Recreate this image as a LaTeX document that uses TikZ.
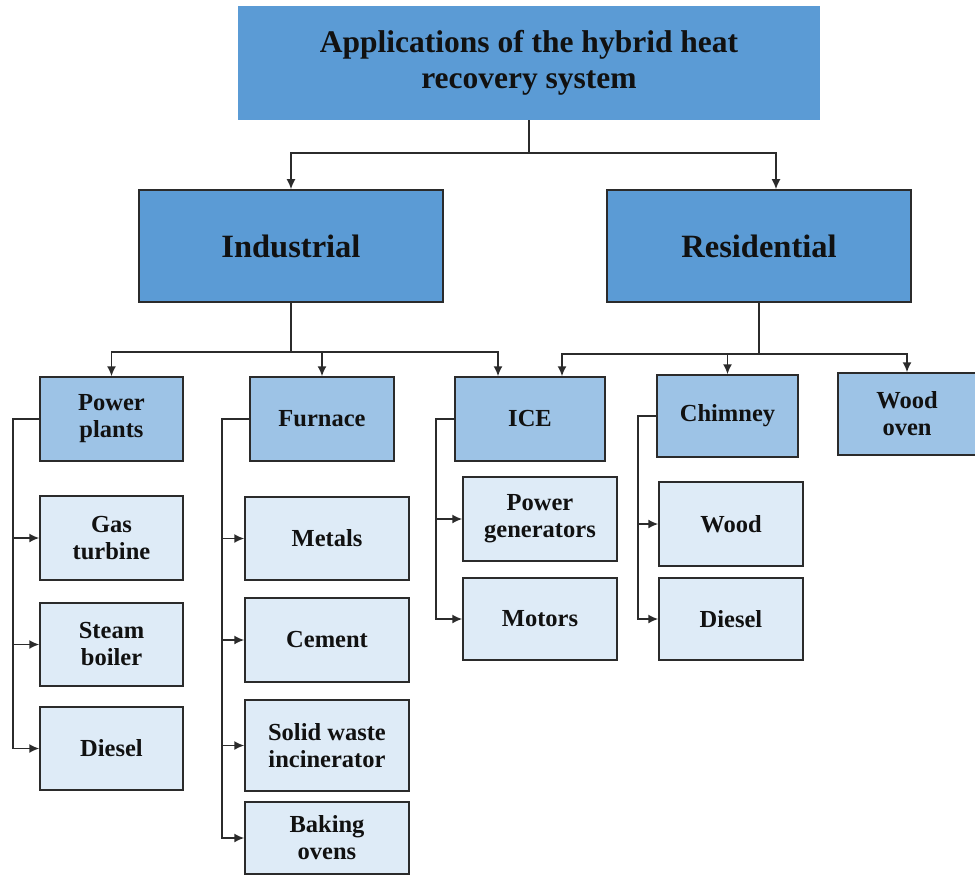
\documentclass[tikz,border=0pt]{standalone}
\usepackage{fontspec}
\setmainfont{Liberation Serif}
\usetikzlibrary{arrows.meta}
\definecolor{cTop}{HTML}{5B9BD5}
\definecolor{cMid}{HTML}{9DC3E6}
\definecolor{cLow}{HTML}{DEEBF7}
\definecolor{cLine}{HTML}{2B2B2B}
\definecolor{cText}{HTML}{111111}
\begin{document}
\begin{tikzpicture}[x=1pt,y=-1pt,
  base/.style={rectangle, inner sep=0pt, align=center, text=cText, font=\bfseries\fontsize{24.5}{27}\selectfont},
  topbox/.style={base, fill=cTop, font=\bfseries\fontsize{31.5}{36}\selectfont},
  lvlone/.style={base, fill=cTop, draw=cLine, line width=1.6pt, font=\bfseries\fontsize{32.5}{36}\selectfont},
  lvltwo/.style={base, fill=cMid, draw=cLine, line width=1.5pt},
  lvlthree/.style={base, fill=cLow, draw=cLine, line width=1.5pt},
  conn/.style={draw=cLine, line width=1.6pt},
  arr/.style={conn, -{Latex[length=10pt,width=9pt]}}
]
\useasboundingbox (0,0) rectangle (975,875);

\node[topbox, minimum width=582, minimum height=114] (top) at (529,63) {Applications of the hybrid heat\\recovery system};

\node[lvlone, minimum width=304, minimum height=112] (ind) at (291,246) {Industrial};
\node[lvlone, minimum width=304, minimum height=112] (res) at (759,246) {Residential};

\node[lvltwo, minimum width=143, minimum height=84] (pp) at (111.5,419) {Power\\plants};
\node[lvltwo, minimum width=144, minimum height=84] (fur) at (322,419) {Furnace};
\node[lvltwo, minimum width=150, minimum height=84] (ice) at (530,419) {ICE};
\node[lvltwo, minimum width=141, minimum height=82] (chim) at (727.5,416) {Chimney};
\node[lvltwo, minimum width=138, minimum height=82] (wo) at (907,414) {Wood\\oven};

\node[lvlthree, minimum width=143, minimum height=84] (gt) at (111.5,538) {Gas\\turbine};
\node[lvlthree, minimum width=143, minimum height=83] (sb) at (111.5,644.5) {Steam\\boiler};
\node[lvlthree, minimum width=143, minimum height=83] (dpp) at (111.5,748.5) {Diesel};

\node[lvlthree, minimum width=164, minimum height=83] (met) at (327,538.5) {Metals};
\node[lvlthree, minimum width=164, minimum height=84] (cem) at (327,640) {Cement};
\node[lvlthree, minimum width=164, minimum height=91] (sw) at (327,745.5) {Solid waste\\incinerator};
\node[lvlthree, minimum width=164, minimum height=72] (bo) at (327,838) {Baking\\ovens};

\node[lvlthree, minimum width=154, minimum height=84] (pg) at (540,519) {Power\\generators};
\node[lvlthree, minimum width=154, minimum height=82] (mot) at (540,619) {Motors};

\node[lvlthree, minimum width=144, minimum height=84] (wd) at (731,524) {Wood};
\node[lvlthree, minimum width=144, minimum height=82] (dch) at (731,619) {Diesel};

% top level connectors
\coordinate (jt) at (529,153);
\draw[conn] (top.south) -- (jt);
\draw[arr] (jt) -| (ind.north);
\draw[arr] (jt) -| ([xshift=17pt]res.north);

% industrial connectors
\coordinate (ji) at (291,352);
\draw[conn] (ind.south) -- (ji);
\draw[arr] (ji) -| (pp.north);
\draw[arr] (ji) -| (fur.north);
\draw[arr] (ji) -| ([xshift=-32pt]ice.north);

% residential connectors
\coordinate (jr) at (759,354);
\draw[conn] (res.south) -- (jr);
\draw[arr] (jr) -| ([xshift=32pt]ice.north);
\draw[arr] (jr) -| (chim.north);
\draw[arr] (jr) -| (wo.north);

% brackets
\draw[arr] (pp.west) -- ++(-26,0) |- (gt.west);
\draw[arr] (pp.west) -- ++(-26,0) |- (sb.west);
\draw[arr] (pp.west) -- ++(-26,0) |- (dpp.west);

\draw[arr] (fur.west) -- ++(-27,0) |- (met.west);
\draw[arr] (fur.west) -- ++(-27,0) |- (cem.west);
\draw[arr] (fur.west) -- ++(-27,0) |- (sw.west);
\draw[arr] (fur.west) -- ++(-27,0) |- (bo.west);

\draw[arr] (ice.west) -- ++(-18,0) |- (pg.west);
\draw[arr] (ice.west) -- ++(-18,0) |- (mot.west);

\draw[arr] (chim.west) -- ++(-18,0) |- (wd.west);
\draw[arr] (chim.west) -- ++(-18,0) |- (dch.west);
\end{tikzpicture}
\end{document}
